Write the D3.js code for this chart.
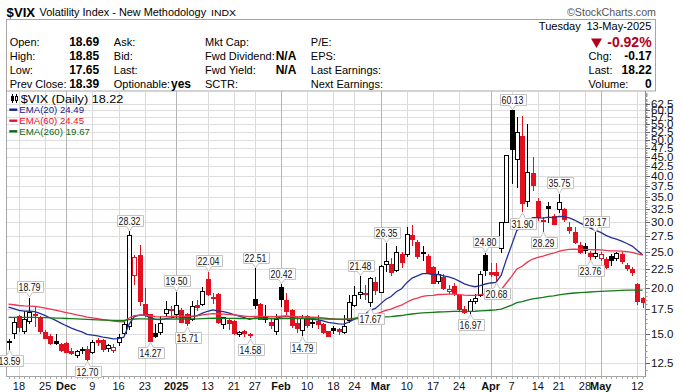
<!DOCTYPE html>
<html><head><meta charset="utf-8">
<script src="https://cdn.jsdelivr.net/npm/d3@7"></script>
<style>
html,body{margin:0;padding:0;background:#fff;}
svg{display:block;}
text{font-family:"Liberation Sans",Arial,sans-serif;}
</style></head>
<body>
<svg id="chart" width="683" height="392"></svg>
<script>
// ---------------- DATA ----------------
const dates = [
"2024-11-14","2024-11-15","2024-11-18","2024-11-19","2024-11-20","2024-11-21","2024-11-22",
"2024-11-25","2024-11-26","2024-11-27","2024-11-29",
"2024-12-02","2024-12-03","2024-12-04","2024-12-05","2024-12-06",
"2024-12-09","2024-12-10","2024-12-11","2024-12-12","2024-12-13",
"2024-12-16","2024-12-17","2024-12-18","2024-12-19","2024-12-20",
"2024-12-23","2024-12-24","2024-12-26","2024-12-27",
"2024-12-30","2024-12-31","2025-01-02","2025-01-03",
"2025-01-06","2025-01-07","2025-01-08","2025-01-10",
"2025-01-13","2025-01-14","2025-01-15","2025-01-16","2025-01-17",
"2025-01-21","2025-01-22","2025-01-23","2025-01-24",
"2025-01-27","2025-01-28","2025-01-29","2025-01-30","2025-01-31",
"2025-02-03","2025-02-04","2025-02-05","2025-02-06","2025-02-07",
"2025-02-10","2025-02-11","2025-02-12","2025-02-13","2025-02-14",
"2025-02-18","2025-02-19","2025-02-20","2025-02-21",
"2025-02-24","2025-02-25","2025-02-26","2025-02-27","2025-02-28",
"2025-03-03","2025-03-04","2025-03-05","2025-03-06","2025-03-07",
"2025-03-10","2025-03-11","2025-03-12","2025-03-13","2025-03-14",
"2025-03-17","2025-03-18","2025-03-19","2025-03-20","2025-03-21",
"2025-03-24","2025-03-25","2025-03-26","2025-03-27","2025-03-28",
"2025-03-31","2025-04-01","2025-04-02","2025-04-03","2025-04-04",
"2025-04-07","2025-04-08","2025-04-09","2025-04-10","2025-04-11",
"2025-04-14","2025-04-15","2025-04-16","2025-04-17",
"2025-04-21","2025-04-22","2025-04-23","2025-04-24","2025-04-25",
"2025-04-28","2025-04-29","2025-04-30","2025-05-01","2025-05-02",
"2025-05-05","2025-05-06","2025-05-07","2025-05-08","2025-05-09",
"2025-05-12","2025-05-13"];

const openVals = [
14.20,15.00,16.70,15.20,16.20,16.95,16.60,
15.10,14.80,14.30,14.00,
14.10,13.45,13.10,13.60,13.60,
13.35,14.40,14.40,13.70,13.55,
14.20,15.00,15.70,21.50,24.40,
18.00,16.90,15.00,15.10,
17.00,17.45,16.90,17.30,
16.90,16.40,17.90,18.00,
21.00,18.80,19.20,15.90,16.30,
16.20,14.90,15.20,14.95,
18.60,18.00,16.50,16.10,15.20,
20.00,18.40,17.30,16.00,15.30,
16.70,16.10,16.20,15.90,15.20,
15.50,15.40,15.10,16.30,
17.90,19.20,19.30,18.20,20.60,
19.40,23.00,23.00,22.20,24.60,
24.50,27.70,26.40,24.90,24.30,
22.60,20.70,21.30,19.50,20.10,
19.00,17.50,17.20,18.30,19.00,
24.40,21.90,22.00,25.50,30.00,
60.13,44.30,50.90,34.00,40.50,
34.00,30.30,33.00,31.00,
32.50,32.40,29.00,28.20,26.00,
25.80,24.70,24.30,24.00,23.80,
24.30,24.00,24.60,22.90,22.40,
20.40,18.69];

const highVals = [
14.55,16.70,16.90,17.30,18.79,17.70,16.80,
15.40,15.00,15.00,14.20,
14.30,13.70,13.60,13.80,13.90,
14.40,14.60,14.50,14.10,14.10,
14.95,16.30,28.32,24.40,26.00,
19.90,17.00,15.90,16.80,
18.40,17.80,19.50,17.60,
17.10,18.40,18.50,20.10,
22.04,19.30,19.30,16.70,16.50,
16.30,15.30,15.40,15.10,
22.51,18.20,17.90,16.60,17.00,
20.42,19.30,17.50,16.70,16.90,
16.90,16.40,16.90,16.00,15.30,
15.80,15.60,16.90,19.10,
20.20,21.48,20.30,21.30,21.40,
23.00,26.35,24.00,25.80,25.00,
29.10,29.40,26.80,25.90,24.60,
22.90,22.10,21.80,20.30,20.60,
19.10,17.80,18.60,19.20,22.20,
24.80,23.30,23.30,30.10,45.60,
60.13,57.50,58.00,55.00,45.00,
34.80,31.00,34.10,31.50,
35.75,32.80,30.00,29.20,26.50,
26.40,25.10,28.17,25.00,24.10,
24.60,25.00,25.00,23.30,22.70,
20.60,18.85];

const lowVals = [
13.59,14.50,15.20,15.00,15.90,15.70,15.00,
14.50,14.00,14.00,13.40,
13.30,13.15,12.90,13.20,12.70,
13.20,13.90,13.40,13.40,13.30,
13.90,14.80,15.40,20.30,17.80,
16.70,14.27,14.60,14.90,
16.70,16.60,16.60,16.00,
15.71,16.20,17.30,17.80,
19.00,18.10,15.90,15.50,15.40,
14.90,14.70,14.70,14.58,
17.50,16.30,16.00,15.50,14.90,
17.70,16.90,15.60,15.10,14.79,
15.60,15.60,15.50,15.00,14.70,
15.00,14.90,15.00,16.00,
17.70,18.60,18.50,17.67,19.10,
19.30,22.00,21.50,22.00,22.60,
24.20,25.80,23.80,23.60,21.70,
20.40,20.40,19.70,19.20,19.00,
17.20,17.00,16.97,18.00,18.80,
21.50,21.40,20.68,24.70,29.80,
38.00,37.00,31.90,33.00,36.50,
30.30,28.29,29.80,29.40,
31.80,30.00,27.80,26.20,24.60,
24.60,23.76,23.90,23.60,22.40,
22.80,23.60,23.20,22.10,21.50,
17.90,17.65];

const closeVals = [
14.31,16.14,15.58,16.35,17.16,16.87,15.24,
14.60,14.10,14.10,13.51,
13.34,13.30,13.45,13.54,12.77,
14.19,14.18,13.58,13.92,13.81,
14.69,15.87,27.62,24.09,18.36,
16.78,14.27,14.73,15.95,
17.40,17.35,17.93,16.13,
16.04,17.82,17.70,19.54,
19.19,18.71,16.12,16.60,15.97,
15.06,15.10,15.02,14.85,
17.90,16.41,16.56,15.84,16.43,
18.62,17.21,15.77,15.50,16.54,
15.81,16.02,15.89,15.10,14.77,
15.35,15.27,15.66,18.21,
18.98,19.43,19.10,21.13,19.63,
22.78,23.51,21.93,24.87,23.37,
27.86,26.92,24.23,24.66,21.77,
20.51,21.70,19.90,19.80,19.28,
17.48,17.15,18.33,18.69,21.65,
22.28,21.77,21.51,30.02,45.31,
46.98,52.33,33.62,40.72,37.56,
30.89,30.12,32.64,29.65,
33.82,30.57,28.45,26.47,24.84,
25.15,24.17,24.70,24.60,22.68,
23.64,24.76,23.55,22.48,21.90,
18.39,18.22];
const closeBeforeFirst = 14.02;

const ema20 = [
17.70,17.55,17.36,17.27,17.26,17.22,17.03,
16.80,16.55,16.31,16.04,
15.78,15.55,15.35,15.18,14.95,
14.88,14.81,14.70,14.63,14.55,
14.56,14.69,15.92,16.70,16.86,
16.85,16.60,16.42,16.38,
16.48,16.56,16.69,16.64,
16.58,16.70,16.80,17.06,
17.26,17.40,17.28,17.22,17.10,
16.91,16.74,16.58,16.42,
16.56,16.55,16.55,16.48,16.48,
16.68,16.73,16.64,16.53,16.53,
16.46,16.42,16.37,16.25,16.11,
16.04,15.97,15.94,16.16,
16.43,16.72,16.95,17.35,17.57,
18.07,18.59,18.91,19.48,19.85,
20.61,21.21,21.50,21.80,21.80,
21.68,21.68,21.51,21.35,21.15,
20.80,20.45,20.25,20.10,20.25,
20.44,20.57,20.66,21.55,23.81,
26.02,28.52,29.01,30.12,30.83,
30.84,30.77,30.95,30.83,
31.11,31.06,30.81,30.40,29.87,
29.42,28.92,28.52,28.15,27.63,
27.25,27.01,26.68,26.28,25.86,
25.15,24.49];

const ema60 = [
18.03,17.97,17.89,17.84,17.82,17.79,17.70,
17.60,17.49,17.38,17.25,
17.12,17.00,16.88,16.77,16.64,
16.56,16.48,16.39,16.31,16.23,
16.18,16.17,16.55,16.79,16.84,
16.84,16.76,16.69,16.67,
16.69,16.71,16.75,16.73,
16.71,16.75,16.78,16.87,
16.95,17.00,16.97,16.96,16.93,
16.87,16.81,16.75,16.69,
16.73,16.72,16.71,16.68,16.68,
16.74,16.76,16.72,16.68,16.68,
16.65,16.63,16.61,16.56,16.50,
16.46,16.42,16.40,16.46,
16.54,16.64,16.72,16.86,16.95,
17.14,17.35,17.50,17.74,17.93,
18.25,18.54,18.72,18.92,19.01,
19.06,19.15,19.17,19.19,19.20,
19.14,19.08,19.05,19.04,19.13,
19.23,19.31,19.38,19.73,20.57,
21.44,22.45,22.82,23.41,23.87,
24.10,24.30,24.57,24.74,
25.04,25.22,25.33,25.36,25.35,
25.34,25.30,25.28,25.26,25.17,
25.12,25.11,25.06,24.98,24.88,
24.66,24.45];

const ema260 = [
16.62,16.62,16.61,16.61,16.61,16.61,16.60,
16.59,16.57,16.55,16.53,
16.50,16.48,16.46,16.43,16.41,
16.39,16.37,16.35,16.33,16.31,
16.30,16.30,16.39,16.45,16.46,
16.46,16.44,16.43,16.43,
16.43,16.44,16.45,16.45,
16.45,16.46,16.47,16.49,
16.51,16.53,16.53,16.53,16.52,
16.51,16.50,16.49,16.48,
16.49,16.49,16.49,16.48,16.48,
16.50,16.50,16.50,16.49,16.49,
16.48,16.48,16.47,16.46,16.45,
16.44,16.43,16.43,16.44,
16.46,16.48,16.50,16.54,16.56,
16.61,16.66,16.70,16.76,16.81,
16.90,16.97,17.03,17.09,17.12,
17.15,17.18,17.20,17.22,17.24,
17.24,17.24,17.25,17.26,17.30,
17.33,17.37,17.40,17.49,17.71,
17.93,18.20,18.32,18.49,18.63,
18.73,18.81,18.92,19.00,
19.11,19.20,19.27,19.33,19.37,
19.41,19.45,19.49,19.53,19.56,
19.59,19.63,19.66,19.68,19.69,
19.68,19.67];

const yTickValues = [12.5,15,17.5,20,22.5,25,27.5,30,32.5,35,37.5,40,42.5,45,47.5,50,52.5,55,57.5,60,62.5];
const xTickDates = ["2024-11-18","2024-11-25","2024-12-02","2024-12-09","2024-12-16","2024-12-23","2025-01-02","2025-01-13","2025-01-21","2025-01-27","2025-02-03","2025-02-10","2025-02-18","2025-02-24","2025-03-03","2025-03-10","2025-03-17","2025-03-24","2025-04-01","2025-04-07","2025-04-14","2025-04-21","2025-04-28","2025-05-01","2025-05-12"];
const xTickLabels = ["18","25","Dec","9","16","23","2025","13","21","27","Feb","10","18","24","Mar","10","17","24","Apr","7","14","21","28","May","12"];

const annoDates  = ["2024-11-14","2024-11-20","2024-12-06","2024-12-18","2024-12-24","2025-01-02","2025-01-06","2025-01-13","2025-01-24","2025-01-27","2025-02-03","2025-02-07","2025-02-25","2025-02-27","2025-03-04","2025-03-26","2025-03-31","2025-04-02","2025-04-07","2025-04-09","2025-04-15","2025-04-21","2025-04-29","2025-04-30"];
const annoValues = [13.59,18.79,12.70,28.32,14.27,19.50,15.71,22.04,14.58,22.51,20.42,14.79,21.48,17.67,26.35,16.97,24.80,20.68,60.13,31.90,28.29,35.75,23.76,28.17];
const annoSides  = ["below","above","below","above","below","above","below","above","below","above","above","below","above","below","above","below","above","below","above","below","below","above","below","above"];

const legendItems = ["EMA(20) 24.49","EMA(60) 24.45","EMA(260) 19.67"];
const legendColors = ["#13208f","#e8102c","#0b6b12"];
const lineColors = ["#22309a","#ee3550","#137a17"];

// ---------------- DRAW ----------------
const svg = d3.select("#chart");
const plot = {left:6, right:645, top:91, bottom:376};
const RED = "#e3101f";

function T(p, x, y, s, o={}) {
  const t = p.append("text").attr("x", x).attr("y", y).text(s);
  t.attr("font-size", o.size || 11);
  if (o.bold) t.attr("font-weight", "bold");
  if (o.anchor) t.attr("text-anchor", o.anchor);
  t.attr("fill", o.fill || "#000");
  if (o.family) t.attr("font-family", o.family);
  if (o.len) t.attr("textLength", o.len).attr("lengthAdjust", "spacingAndGlyphs");
  return t;
}

svg.append("rect").attr("width",683).attr("height",392).attr("fill","#fff");

// Header
T(svg, 6.6, 16.5, "$VIX", {size:13.5, bold:true, len:28.5});
T(svg, 39.6, 16, "Volatility Index - New Methodology", {size:11, len:166.5});
T(svg, 211, 16, "INDX", {size:9.5, family:"DejaVu Sans", len:25});
T(svg, 567, 16, "\u00A9StockCharts.com", {size:11, fill:"#555", len:89});
svg.append("rect").attr("x",6.5).attr("y",19.5).attr("width",649).attr("height",71.5)
  .attr("fill","none").attr("stroke","#a6a6a6");

const rowY = [45.8, 59.9, 74.2, 88.4];
const col1 = ["Open:","High:","Low:","Prev Close:"], col1v = ["18.69","18.85","17.65","18.39"];
const col2 = ["Ask:","Bid:","Last:","Optionable:"];
const col3 = ["Mkt Cap:","Fwd Dividend:","Fwd Yield:","SCTR:"], col3v = ["","N/A","N/A",""];
const col4 = ["P/E:","EPS:","Last Earnings:","Next Earnings:"];
const col5 = ["","Chg:","Last:","Volume:"], col5v = ["","-0.17","18.22","0"];
T(svg, 538.8, 30.3, "Tuesday", {size:11, len:42});
T(svg, 586.4, 30.3, "13-May-2025", {size:11, len:65});
rowY.forEach((y,i)=>{
  T(svg, 9.7, y, col1[i], {size:11});
  T(svg, 99.2, y, col1v[i], {size:12, bold:true, anchor:"end"});
  T(svg, 113.8, y, col2[i], {size:11});
  T(svg, 205, y, col3[i], {size:11});
  if (col3v[i]) T(svg, 296.3, y, col3v[i], {size:12, bold:true, anchor:"end"});
  T(svg, 310.8, y, col4[i], {size:11});
  if (col5[i]) T(svg, 588.6, y, col5[i], {size:11});
  if (col5v[i]) T(svg, 651.6, y, col5v[i], {size:12, bold:true, anchor:"end"});
});
T(svg, 171, rowY[3], "yes", {size:12, bold:true});
svg.append("path").attr("d","M591,38.5 L602,38.5 L596.5,48 Z").attr("fill","#b3001b");
T(svg, 651.6, 46.8, "-0.92%", {size:14, bold:true, anchor:"end", fill:"#b3001b"});

// Scales
const xs = d3.scaleLinear().domain([-0.48, dates.length - 1 + 0.45]).range([plot.left, plot.right]);
const ys = d3.scaleLog().domain([11.55, 67.7]).range([plot.bottom, plot.top]);
const idx = new Map(dates.map((d,i)=>[d,i]));
const px = v => Math.round(v) + 0.5;

// Grid
const grid = svg.append("g");
grid.selectAll("line.h").data(yTickValues).join("line").attr("class","h")
  .attr("x1", plot.left).attr("x2", plot.right)
  .attr("y1", d=>px(ys(d))).attr("y2", d=>px(ys(d)))
  .attr("stroke","#dedede");
const isMajor = l => !/^\d{1,2}$/.test(l);
grid.selectAll("line.v").data(xTickDates).join("line").attr("class","v")
  .attr("x1", d=>px(xs(idx.get(d)))).attr("x2", d=>px(xs(idx.get(d))))
  .attr("y1", plot.top).attr("y2", plot.bottom)
  .attr("stroke", (d,i)=> isMajor(xTickLabels[i]) ? "#b5b5b5" : "#dadada");

// Frame
svg.append("line").attr("x1",6.5).attr("x2",6.5).attr("y1",plot.top).attr("y2",plot.bottom).attr("stroke","#a6a6a6");
svg.append("line").attr("x1",plot.left).attr("x2",plot.right).attr("y1",376.5).attr("y2",376.5).attr("stroke","#a6a6a6");
svg.append("line").attr("x1",645.5).attr("x2",645.5).attr("y1",plot.top).attr("y2",plot.bottom+1).attr("stroke","#8c8c8c");

// Y axis ticks & labels
const minor = d3.range(12, 67.5, 0.5).filter(v => Math.abs(v/2.5 - Math.round(v/2.5)) > 1e-6);
svg.append("g").selectAll("line").data(minor).join("line")
  .attr("x1",645.5).attr("x2",647.5).attr("y1",d=>px(ys(d))).attr("y2",d=>px(ys(d)))
  .attr("stroke","#9a9a9a");
svg.append("g").selectAll("line").data(yTickValues).join("line")
  .attr("x1",645.5).attr("x2",650).attr("y1",d=>px(ys(d))).attr("y2",d=>px(ys(d)))
  .attr("stroke","#666");
svg.append("g").selectAll("text").data(yTickValues).join("text")
  .attr("x",651).attr("y",d=>ys(d)+4).attr("font-size",11.5).attr("fill","#111")
  .text(d=>d.toFixed(1));

// X axis ticks & labels
svg.append("g").selectAll("line").data(dates).join("line")
  .attr("x1",(d,i)=>px(xs(i))).attr("x2",(d,i)=>px(xs(i)))
  .attr("y1",377).attr("y2",379).attr("stroke","#aaa");
svg.append("g").selectAll("text").data(xTickDates).join("text")
  .attr("x", d=>xs(idx.get(d))).attr("y", 389.5)
  .attr("text-anchor","middle").attr("font-size",11)
  .attr("font-weight",(d,i)=> isMajor(xTickLabels[i]) ? "bold" : "normal")
  .attr("fill","#111")
  .text((d,i)=>xTickLabels[i]);

// Clip
svg.append("clipPath").attr("id","clip").append("rect")
  .attr("x",plot.left+1).attr("y",plot.top).attr("width",plot.right-plot.left-1).attr("height",plot.bottom-plot.top);

// Candles
const candles = dates.map((d,i)=>({
  i, o:openVals[i], h:highVals[i], l:lowVals[i], c:closeVals[i],
  prev: i>0 ? closeVals[i-1] : closeBeforeFirst
}));
const cg = svg.append("g").attr("clip-path","url(#clip)").attr("shape-rendering","crispEdges");
candles.forEach(k=>{
  const col = k.c >= k.prev ? "#000" : RED;
  const hollow = k.c > k.o;
  const x = Math.round(xs(k.i));
  cg.append("line").attr("x1",x+0.5).attr("x2",x+0.5).attr("y1",ys(k.h)).attr("y2",ys(k.l))
    .attr("stroke",col).attr("stroke-width",1);
  const yt = ys(Math.max(k.o,k.c)), yb = ys(Math.min(k.o,k.c));
  const hgt = Math.max(1.2, yb-yt);
  if (hollow) {
    cg.append("rect").attr("x",x-1.5).attr("y",yt).attr("width",4).attr("height",Math.max(1,hgt))
      .attr("fill","#fff").attr("stroke",col).attr("stroke-width",1);
  } else {
    cg.append("rect").attr("x",x-2).attr("y",yt-0.5).attr("width",5).attr("height",hgt+1)
      .attr("fill",col);
  }
});

// EMA lines
const lg = svg.append("g").attr("clip-path","url(#clip)");
[ema20, ema60, ema260].forEach((arr,k)=>{
  lg.append("path").datum(arr)
    .attr("d", d3.line().x((d,i)=>xs(i)).y(d=>ys(d)))
    .attr("fill","none").attr("stroke",lineColors[k]).attr("stroke-width",1.3);
});

// Legend
const leg = svg.append("g");
leg.append("line").attr("x1",12.5).attr("x2",12.5).attr("y1",94).attr("y2",103).attr("stroke","#000");
leg.append("rect").attr("x",11).attr("y",96).attr("width",3).attr("height",5).attr("fill","#000");
leg.append("line").attr("x1",16.5).attr("x2",16.5).attr("y1",94).attr("y2",103).attr("stroke","#000");
leg.append("rect").attr("x",15.5).attr("y",96.5).attr("width",2).attr("height",4).attr("fill","#fff").attr("stroke","#000");
T(leg, 20.7, 102.6, "$VIX (Daily) 18.22", {size:11, family:"DejaVu Sans", len:102.6});
const legY = [109.7, 120.7, 131.3], legLen = [64.7, 64.7, 70.7];
legendItems.forEach((s,k)=>{
  leg.append("line").attr("x1",9.3).attr("x2",17.3).attr("y1",legY[k]).attr("y2",legY[k])
    .attr("stroke",legendColors[k]).attr("stroke-width",2.4);
  T(leg, 19.3, legY[k]+3.4, s, {size:9.5, family:"DejaVu Sans", fill:legendColors[k], len:legLen[k]});
});

// Annotations
const ag = svg.append("g");
annoDates.forEach((d,k)=>{
  const cx = px(xs(idx.get(d)));
  const vy = ys(annoValues[k]);
  const above = annoSides[k] === "above";
  const w = 26, h = 11, n = 5;
  const left = Math.round(cx - w/2) + 0.5, right = left + w;
  let top, bottom, tip, path;
  if (above) {
    tip = vy - 0.5; bottom = Math.round(tip - n) + 0.5; top = bottom - h;
    path = `M${left},${top}H${right}V${bottom}H${cx+3}L${cx},${tip}L${cx-3},${bottom}H${left}Z`;
  } else {
    tip = vy + 0.5; top = Math.round(tip + n) + 0.5; bottom = top + h;
    path = `M${left},${top}H${cx-3}L${cx},${tip}L${cx+3},${top}H${right}V${bottom}H${left}Z`;
  }
  ag.append("path").attr("d",path).attr("fill","#fff").attr("stroke","#c3c3c3");
  T(ag, cx, top + 9, annoValues[k].toFixed(2), {size:10.5, anchor:"middle", fill:"#111", len:22});
});
</script>
</body></html>
